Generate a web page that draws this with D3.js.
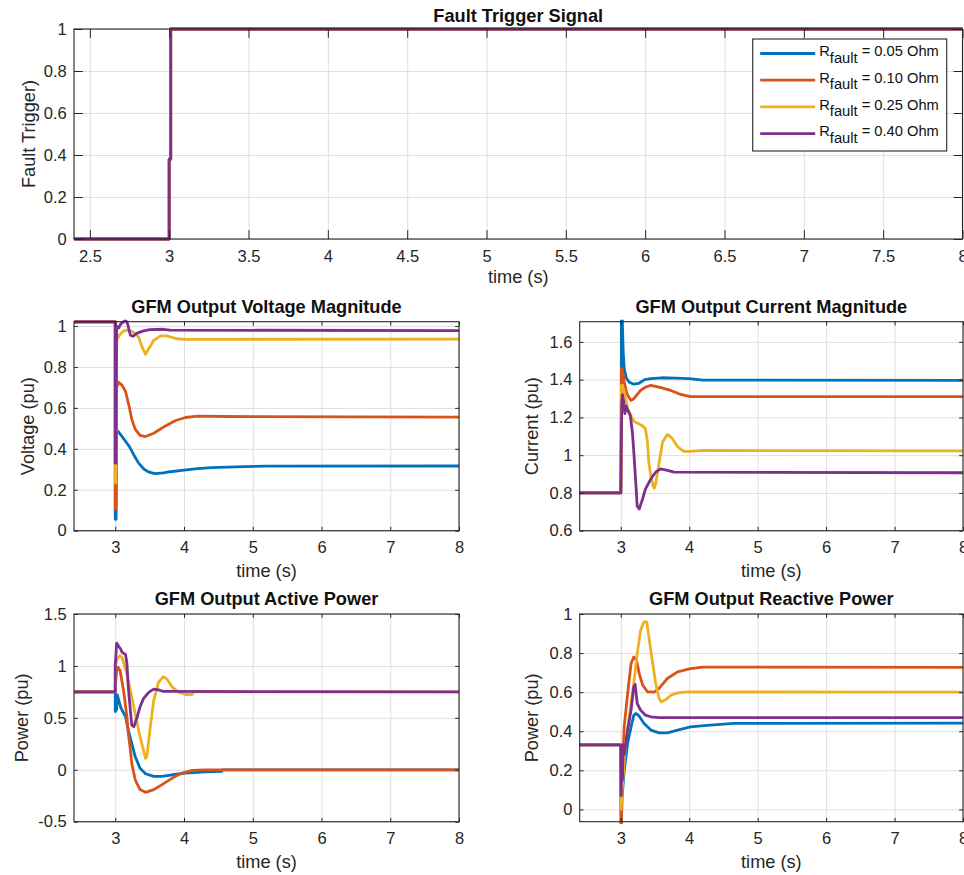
<!DOCTYPE html>
<html>
<head>
<meta charset="utf-8">
<script src="https://cdn.jsdelivr.net/npm/d3@7"></script>
<style>
  html, body { margin: 0; padding: 0; background: #fff; }
  svg { display: block; }
</style>
</head>
<body>
<svg id="fig" width="964" height="875"></svg>
<script>
// ---- Simulation traces: [time (s), value] ----
const seriesNames = ["0.05", "0.10", "0.25", "0.40"];
const seriesColors = ["#0072BD", "#D95319", "#EDB120", "#7E2F8E"];

const triggerSignal = [[2.4,0],[3.0,0],[3.0,0.38],[3.0095,0.38],[3.0095,1],[8,1]];

const voltage005 = [[2.4,1.02],[3.0,1.02],[3.0,0.056],[3.012,0.056],[3.02,0.49],[3.05,0.482],[3.1,0.46],[3.2,0.414],[3.27,0.37],[3.34,0.33],[3.42,0.3],[3.49,0.286],[3.58,0.279],[3.7,0.282],[3.8,0.288],[4.0,0.296],[4.2,0.303],[4.4,0.308],[4.75,0.312],[5.2,0.315],[8,0.316]];
const voltage010 = [[2.4,1.02],[3.0,1.02],[3.0,0.105],[3.01,0.105],[3.02,0.7],[3.05,0.725],[3.1,0.71],[3.15,0.68],[3.2,0.61],[3.24,0.545],[3.29,0.496],[3.36,0.466],[3.44,0.46],[3.56,0.476],[3.73,0.512],[3.87,0.537],[4.02,0.553],[4.2,0.56],[4.6,0.558],[8,0.555]];
const voltage025 = [[2.4,1.02],[3.0,1.02],[3.0,0.233],[3.01,0.233],[3.02,0.93],[3.05,0.95],[3.1,0.97],[3.15,0.98],[3.24,0.975],[3.3,0.96],[3.34,0.945],[3.39,0.898],[3.44,0.862],[3.49,0.89],[3.56,0.93],[3.66,0.952],[3.75,0.952],[3.87,0.94],[4.0,0.935],[8,0.936]];
const voltage040 = [[2.4,1.02],[3.0,1.02],[3.0,0.33],[3.01,0.33],[3.02,1.0],[3.05,0.99],[3.08,1.01],[3.12,1.02],[3.15,1.03],[3.18,1.01],[3.22,0.955],[3.26,0.95],[3.32,0.965],[3.4,0.975],[3.5,0.982],[3.7,0.984],[3.8,0.98],[8,0.977]];

const current005 = [[2.4,0.8],[3.0,0.8],[3.005,0.93],[3.01,1.9],[3.02,1.75],[3.035,1.55],[3.05,1.46],[3.08,1.41],[3.12,1.388],[3.19,1.376],[3.26,1.38],[3.35,1.4],[3.44,1.406],[3.6,1.41],[3.8,1.408],[4.0,1.405],[4.2,1.398],[8,1.396]];
const current010 = [[2.4,0.8],[3.0,0.8],[3.005,0.9],[3.01,1.46],[3.03,1.44],[3.05,1.39],[3.08,1.34],[3.1,1.317],[3.15,1.29],[3.19,1.299],[3.29,1.343],[3.36,1.36],[3.44,1.37],[3.56,1.36],[3.73,1.343],[3.85,1.325],[3.95,1.315],[4.02,1.31],[8,1.31]];
const current025 = [[2.4,0.8],[3.0,0.8],[3.005,0.87],[3.01,1.37],[3.03,1.36],[3.05,1.34],[3.1,1.246],[3.15,1.21],[3.19,1.18],[3.24,1.17],[3.32,1.155],[3.36,1.14],[3.39,1.07],[3.41,0.96],[3.44,0.89],[3.47,0.84],[3.49,0.825],[3.51,0.85],[3.56,0.96],[3.61,1.07],[3.68,1.11],[3.75,1.09],[3.83,1.045],[3.92,1.02],[4.02,1.02],[4.2,1.025],[8,1.023]];
const current040 = [[2.4,0.8],[3.0,0.8],[3.005,1.0],[3.015,1.28],[3.025,1.32],[3.04,1.29],[3.06,1.22],[3.08,1.26],[3.1,1.24],[3.14,1.21],[3.17,1.12],[3.19,1.02],[3.22,0.85],[3.24,0.73],[3.27,0.715],[3.32,0.77],[3.36,0.82],[3.44,0.875],[3.51,0.91],[3.58,0.927],[3.68,0.92],[3.78,0.91],[8,0.907]];

const active005 = [[2.4,0.75],[3.0,0.75],[3.0,0.56],[3.02,0.58],[3.03,0.72],[3.05,0.67],[3.08,0.6],[3.1,0.573],[3.15,0.51],[3.19,0.382],[3.24,0.255],[3.29,0.127],[3.36,0.016],[3.44,-0.038],[3.56,-0.064],[3.68,-0.064],[3.83,-0.048],[4.02,-0.032],[4.31,-0.019],[4.55,-0.015],[4.56,0],[8,0]];
const active010 = [[2.4,0.75],[3.0,0.75],[3.0,0.8],[3.02,0.95],[3.04,0.987],[3.07,0.955],[3.12,0.764],[3.17,0.51],[3.19,0.35],[3.22,0.191],[3.24,0.064],[3.29,-0.096],[3.36,-0.191],[3.44,-0.217],[3.56,-0.191],[3.68,-0.143],[3.83,-0.08],[3.97,-0.032],[4.12,-0.006],[4.3,0],[8,0]];
const active025 = [[2.4,0.75],[3.0,0.75],[3.0,1.0],[3.03,1.07],[3.07,1.1],[3.1,1.08],[3.17,0.92],[3.22,0.764],[3.27,0.605],[3.32,0.446],[3.36,0.318],[3.41,0.191],[3.44,0.11],[3.46,0.13],[3.51,0.414],[3.56,0.668],[3.63,0.843],[3.7,0.897],[3.75,0.875],[3.83,0.796],[3.92,0.748],[4.02,0.725],[4.12,0.725],[4.13,0.75],[8,0.75]];
const active040 = [[2.4,0.75],[3.0,0.75],[3.0,1.0],[3.02,1.22],[3.05,1.19],[3.08,1.16],[3.1,1.13],[3.15,1.11],[3.17,1.02],[3.19,0.79],[3.22,0.57],[3.24,0.43],[3.27,0.414],[3.32,0.51],[3.36,0.605],[3.41,0.685],[3.49,0.748],[3.56,0.777],[3.63,0.77],[3.7,0.754],[8,0.75]];

const reactive005 = [[2.4,0.33],[3.0,0.33],[3.005,-0.1],[3.02,0.064],[3.05,0.197],[3.1,0.337],[3.15,0.422],[3.19,0.482],[3.22,0.491],[3.27,0.477],[3.34,0.44],[3.44,0.406],[3.56,0.392],[3.68,0.392],[3.83,0.406],[4.02,0.422],[4.26,0.43],[4.65,0.44],[8,0.442]];
const reactive010 = [[2.4,0.33],[3.0,0.33],[3.005,-0.12],[3.015,0.1],[3.05,0.422],[3.1,0.593],[3.15,0.746],[3.19,0.78],[3.23,0.763],[3.27,0.695],[3.32,0.636],[3.39,0.602],[3.49,0.6],[3.56,0.619],[3.68,0.67],[3.83,0.704],[4.02,0.72],[4.2,0.728],[8,0.727]];
const reactive025 = [[2.4,0.33],[3.0,0.33],[3.005,0.0],[3.02,0.1],[3.07,0.337],[3.15,0.542],[3.19,0.644],[3.24,0.797],[3.29,0.917],[3.34,0.96],[3.38,0.96],[3.41,0.883],[3.46,0.763],[3.51,0.644],[3.56,0.567],[3.59,0.55],[3.66,0.562],[3.73,0.584],[3.83,0.596],[3.97,0.601],[8,0.6]];
const reactive040 = [[2.4,0.33],[3.0,0.33],[3.005,0.07],[3.015,0.3],[3.025,0.15],[3.035,0.33],[3.05,0.28],[3.1,0.405],[3.15,0.508],[3.19,0.627],[3.21,0.64],[3.24,0.542],[3.29,0.508],[3.36,0.482],[3.44,0.474],[3.56,0.47],[8,0.47]];

// ---- Axis limits and tick values ----
const timeDomain = [2.4, 8];
const timeTicksFine = [2.5, 3, 3.5, 4, 4.5, 5, 5.5, 6, 6.5, 7, 7.5, 8];
const timeTicks = [3, 4, 5, 6, 7, 8];
const triggerTicks = [0, 0.2, 0.4, 0.6, 0.8, 1];
const voltageTicks = [0, 0.2, 0.4, 0.6, 0.8, 1];
const currentTicks = [0.6, 0.8, 1, 1.2, 1.4, 1.6];
const activeTicks = [-0.5, 0, 0.5, 1, 1.5];
const reactiveTicks = [0, 0.2, 0.4, 0.6, 0.8, 1];

// ---- Figure layout ----
const FONT = "'Liberation Sans', Arial, Helvetica, sans-serif";
const TICK_FS = 16.5, LABEL_FS = 18.2, TITLE_FS = 18.2, LEGEND_FS = 14.7;
const AX_COLOR = "#262626", GRID_COLOR = "#dfdfdf";

const panels = [
  { id: "trig", box: [74, 29, 962.5, 239], yDomain: [0, 1], xTicks: timeTicksFine, yTicks: triggerTicks,
    title: "Fault Trigger Signal", ylabel: "Fault Trigger)", ylabelX: 35, xlabelY: 283, titleY: 21.5,
    series: [triggerSignal, triggerSignal, triggerSignal, triggerSignal], legend: true },
  { id: "volt", box: [74, 321.7, 459, 530.7], yDomain: [0, 1.021], xTicks: timeTicks, yTicks: voltageTicks,
    title: "GFM Output Voltage Magnitude", ylabel: "Voltage (pu)", ylabelX: 34, xlabelY: 577, titleY: 312.7,
    series: [voltage005, voltage010, voltage025, voltage040] },
  { id: "curr", box: [579.7, 321.7, 963, 530.7], yDomain: [0.6, 1.707], xTicks: timeTicks, yTicks: currentTicks,
    title: "GFM Output Current Magnitude", ylabel: "Current (pu)", ylabelX: 537.5, xlabelY: 577, titleY: 312.7,
    series: [current005, current010, current025, current040] },
  { id: "pact", box: [74, 614, 459, 821.7], yDomain: [-0.5, 1.5], xTicks: timeTicks, yTicks: activeTicks,
    title: "GFM Output Active Power", ylabel: "Power (pu)", ylabelX: 27.5, xlabelY: 868, titleY: 605,
    series: [active005, active010, active025, active040] },
  { id: "preact", box: [579.7, 614, 963, 821.7], yDomain: [-0.063, 1], xTicks: timeTicks, yTicks: reactiveTicks,
    title: "GFM Output Reactive Power", ylabel: "Power (pu)", ylabelX: 537.5, xlabelY: 868, titleY: 605,
    series: [reactive005, reactive010, reactive025, reactive040] }
];

const svg = d3.select("#fig");
svg.append("rect").attr("width", 964).attr("height", 875).attr("fill", "#fff");

const fmt = v => String(+v.toFixed(2));

function styleAxis(g) {
  g.select(".domain").remove();
  g.attr("font-family", FONT).attr("font-size", TICK_FS);
  g.selectAll(".tick line").attr("stroke", AX_COLOR).attr("stroke-width", 1);
  g.selectAll(".tick text").attr("fill", AX_COLOR);
}

panels.forEach(p => {
  const [x0, y0, x1, y1] = p.box;
  const w = x1 - x0, h = y1 - y0;
  const x = d3.scaleLinear().domain(timeDomain).range([0, w]);
  const y = d3.scaleLinear().domain(p.yDomain).range([h, 0]);
  const tickLen = Math.max(w, h) * 0.01;

  const g = svg.append("g").attr("transform", `translate(${x0},${y0})`);

  // grid
  g.append("g").attr("transform", `translate(0,${h})`)
    .call(d3.axisBottom(x).tickValues(p.xTicks).tickSize(-h).tickFormat(""))
    .call(a => { a.select(".domain").remove(); a.selectAll("line").attr("stroke", GRID_COLOR).attr("stroke-width", 1); });
  g.append("g")
    .call(d3.axisLeft(y).tickValues(p.yTicks).tickSize(-w).tickFormat(""))
    .call(a => { a.select(".domain").remove(); a.selectAll("line").attr("stroke", GRID_COLOR).attr("stroke-width", 1); });

  // traces
  const clipId = "clip-" + p.id;
  g.append("clipPath").attr("id", clipId)
    .append("rect").attr("x", -2).attr("y", -2).attr("width", w + 4).attr("height", h + 4);
  const line = d3.line().x(d => x(d[0])).y(d => y(d[1]));
  const traces = g.append("g").attr("clip-path", `url(#${clipId})`);
  p.series.forEach((s, i) => {
    traces.append("path").datum(s)
      .attr("d", line)
      .attr("fill", "none")
      .attr("stroke", seriesColors[i])
      .attr("stroke-width", 2.8)
      .attr("stroke-linejoin", "round");
  });

  // axes with inward ticks on all four sides
  g.append("g").attr("transform", `translate(0,${h})`)
    .call(d3.axisBottom(x).tickValues(p.xTicks).tickSize(-tickLen).tickPadding(22.5 - 0.71 * TICK_FS).tickFormat(fmt))
    .call(styleAxis);
  g.append("g")
    .call(d3.axisTop(x).tickValues(p.xTicks).tickSize(-tickLen).tickFormat(""))
    .call(styleAxis);
  g.append("g")
    .call(d3.axisLeft(y).tickValues(p.yTicks).tickSize(-tickLen).tickPadding(7.3).tickFormat(fmt))
    .call(styleAxis);
  g.append("g").attr("transform", `translate(${w},0)`)
    .call(d3.axisRight(y).tickValues(p.yTicks).tickSize(-tickLen).tickFormat(""))
    .call(styleAxis);

  // box
  g.append("rect").attr("width", w).attr("height", h)
    .attr("fill", "none").attr("stroke", AX_COLOR).attr("stroke-width", 1.1);

  // title and labels
  svg.append("text")
    .attr("x", x0 + w / 2).attr("y", p.titleY)
    .attr("text-anchor", "middle")
    .attr("font-family", FONT).attr("font-size", TITLE_FS).attr("font-weight", "bold")
    .attr("fill", "#111")
    .text(p.title);
  svg.append("text")
    .attr("x", x0 + w / 2).attr("y", p.xlabelY)
    .attr("text-anchor", "middle")
    .attr("font-family", FONT).attr("font-size", LABEL_FS)
    .attr("fill", AX_COLOR)
    .text("time (s)");
  svg.append("text")
    .attr("transform", `translate(${p.ylabelX},${y0 + h / 2}) rotate(-90)`)
    .attr("text-anchor", "middle")
    .attr("font-family", FONT).attr("font-size", LABEL_FS)
    .attr("fill", AX_COLOR)
    .text(p.ylabel);

  if (p.legend) {
    const lg = svg.append("g").attr("transform", "translate(752.7,39)");
    lg.append("rect").attr("width", 194).attr("height", 112)
      .attr("fill", "#fff").attr("stroke", AX_COLOR).attr("stroke-width", 1.1);
    seriesNames.forEach((name, i) => {
      const ly = 14.5 + i * 26.7;
      lg.append("line").attr("x1", 7.5).attr("x2", 62.5).attr("y1", ly).attr("y2", ly)
        .attr("stroke", seriesColors[i]).attr("stroke-width", 2.8);
      const t = lg.append("text").attr("x", 66.5).attr("y", ly + 2.7)
        .attr("font-family", FONT).attr("font-size", LEGEND_FS).attr("fill", "#111");
      t.append("tspan").text("R");
      t.append("tspan").attr("dy", 6.4).text("fault");
      t.append("tspan").attr("dy", -6.4).text(" = " + name + " Ohm");
    });
  }
});
</script>
</body>
</html>
